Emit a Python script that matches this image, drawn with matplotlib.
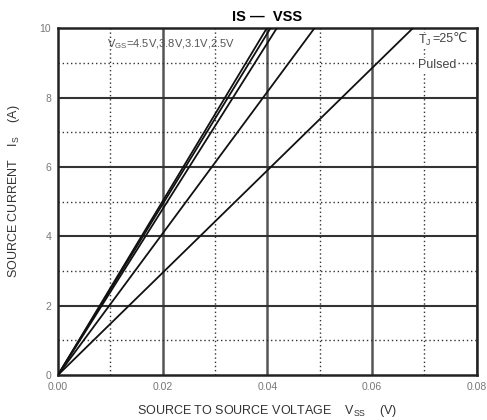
import numpy as np
import matplotlib.pyplot as plt

plt.rcParams['font.family'] = ['Liberation Sans', 'DejaVu Sans']

# source current at the top edge (A) and the voltage where each curve reaches it (V)
i_top = 10.0
v_at_top = [0.0399, 0.0406, 0.0418, 0.0490, 0.0678]

x_ticks = [0.00, 0.02, 0.04, 0.06, 0.08]
x_tick_labels = ['0.00', '0.02', '0.04', '0.06', '0.08']
y_ticks = [0, 2, 4, 6, 8, 10]

fig = plt.figure(figsize=(4.87, 4.20), dpi=100)
ax = fig.add_axes([0.119, 0.107, 0.860, 0.826])

# grid: solid at majors, dotted at minors
for xv in np.arange(0.01, 0.08, 0.01):
    if round(xv / 0.01) % 2 == 0:
        ax.axvline(xv, color='#555555', lw=1.8, zorder=1)
    else:
        ax.axvline(xv, color='#333333', lw=1.0, ls=(0, (1, 2)), zorder=1)
for yv in range(1, 10):
    if yv % 2 == 0:
        ax.axhline(yv, color='#333333', lw=1.5, zorder=1)
    else:
        ax.axhline(yv, color='#333333', lw=1.0, ls=(0, (1, 2)), zorder=1)

for v in v_at_top:
    ax.plot([0, v], [0, i_top], color='#111111', lw=1.3, zorder=3)

ax.set_xlim(0, 0.08)
ax.set_ylim(0, 10)
ax.set_xticks(x_ticks)
ax.set_xticklabels(x_tick_labels)
ax.set_yticks(y_ticks)
ax.tick_params(length=0, labelsize=7.5, labelcolor='#777777', pad=5)
for s in ax.spines.values():
    s.set_linewidth(1.8)
    s.set_color('#222222')

ax.set_title('IS —  VSS', fontsize=10.5, fontweight='bold', pad=5)
ax.set_xlabel('SOURCE TO SOURCE VOLTAGE    V$_{\\mathregular{SS}}$    (V)',
              fontsize=9, color='#333333', labelpad=8)
ax.set_ylabel('SOURCE CURRENT    I$_{\\mathregular{S}}$    (A)',
              fontsize=9, color='#333333')
ax.yaxis.set_label_coords(-0.085, 0.53)

ax.text(0.0094, 9.45, 'V$_{\\mathregular{GS}}$=4.5V,3.8V,3.1V,2.5V',
        fontsize=8, color='#555555', zorder=4)
tj = ax.text(0.0688, 9.85, 'T$_{\\mathregular{J}}$', fontsize=9, color='#444444',
             va='top', zorder=4,
             bbox=dict(facecolor='white', edgecolor='none', pad=0.5))
ax.annotate('=25℃', xy=(1, 1), xycoords=tj, xytext=(0.5, 0),
            textcoords='offset points', va='top', fontsize=9,
            color='#444444', zorder=4,
            bbox=dict(facecolor='white', edgecolor='none', pad=0.5))
ax.text(0.0688, 8.85, 'Pulsed', fontsize=9, color='#444444', zorder=4,
        bbox=dict(facecolor='white', edgecolor='none', pad=0.5))

fig.savefig('out.png', dpi=100)
